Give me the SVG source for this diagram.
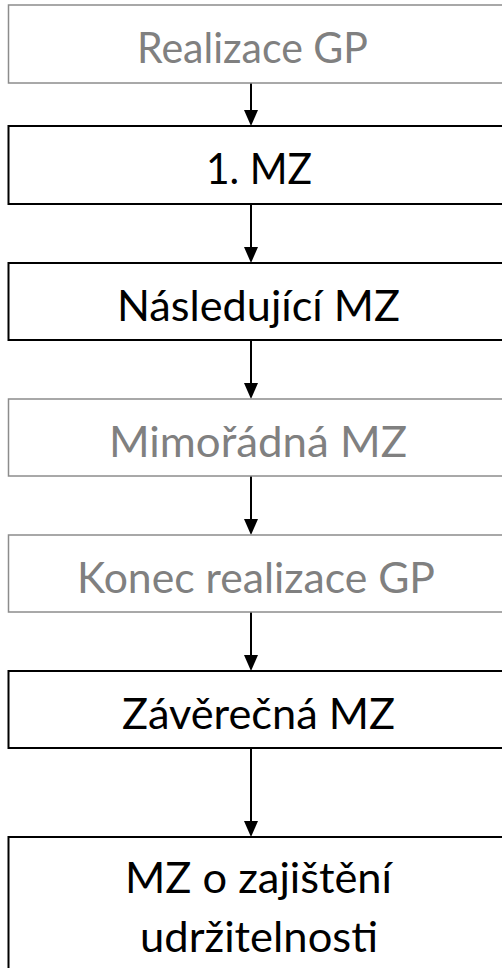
<svg xmlns="http://www.w3.org/2000/svg" width="502" height="968" viewBox="0 0 502 968">
<style>
.box{fill:#ffffff;}
.dark{stroke:#000000;stroke-width:2;}
.light{stroke:#8c8c8c;stroke-width:1.5;}
text{font-family:Lato,"Open Sans","Liberation Sans",sans-serif;font-size:42px;}
.tdark{fill:#000000;}
.tlight{fill:#808080;}
.conn{stroke:#000000;stroke-width:2;fill:none;}
.head{fill:#000000;}
</style>
<rect width="502" height="968" fill="#ffffff"/>
<g id="connectors">
<line class="conn" x1="251" y1="83" x2="251" y2="110"/><path class="head" d="M244,110 L258,110 L251,126 Z"/>
<line class="conn" x1="251" y1="204" x2="251" y2="247"/><path class="head" d="M244,247 L258,247 L251,263 Z"/>
<line class="conn" x1="251" y1="340" x2="251" y2="383"/><path class="head" d="M244,383 L258,383 L251,399 Z"/>
<line class="conn" x1="251" y1="476" x2="251" y2="519"/><path class="head" d="M244,519 L258,519 L251,535 Z"/>
<line class="conn" x1="251" y1="612" x2="251" y2="655"/><path class="head" d="M244,655 L258,655 L251,671 Z"/>
<line class="conn" x1="251" y1="748" x2="251" y2="821"/><path class="head" d="M244,821 L258,821 L251,837 Z"/>
</g>
<g id="node-realizace">
<rect class="box light" x="8.5" y="5" width="505" height="78"/>
<text class="tlight" x="137" y="63" textLength="231" lengthAdjust="spacingAndGlyphs">Realizace GP</text>
</g>
<g id="node-1mz">
<rect class="box dark" x="8.5" y="126" width="505" height="78"/>
<text class="tdark" x="206" y="184" textLength="106" lengthAdjust="spacingAndGlyphs">1. MZ</text>
</g>
<g id="node-nasledujici">
<rect class="box dark" x="8.5" y="263" width="505" height="77"/>
<text class="tdark" x="117" y="321" textLength="283" lengthAdjust="spacingAndGlyphs">Následující MZ</text>
</g>
<g id="node-mimoradna">
<rect class="box light" x="8.5" y="399" width="505" height="77"/>
<text class="tlight" x="109" y="457" textLength="298" lengthAdjust="spacingAndGlyphs">Mimořádná MZ</text>
</g>
<g id="node-konec">
<rect class="box light" x="8.5" y="535" width="505" height="77"/>
<text class="tlight" x="77" y="593" textLength="358" lengthAdjust="spacingAndGlyphs">Konec realizace GP</text>
</g>
<g id="node-zaverecna">
<rect class="box dark" x="8.5" y="671" width="505" height="77"/>
<text class="tdark" x="122" y="729" textLength="273" lengthAdjust="spacingAndGlyphs">Závěrečná MZ</text>
</g>
<g id="node-udrzitelnost">
<rect class="box dark" x="8.5" y="837" width="505" height="150"/>
<text class="tdark" x="125" y="893" textLength="267" lengthAdjust="spacingAndGlyphs">MZ o zajištění</text>
<text class="tdark" x="140" y="952" textLength="238" lengthAdjust="spacingAndGlyphs">udržitelnosti</text>
</g>
</svg>
